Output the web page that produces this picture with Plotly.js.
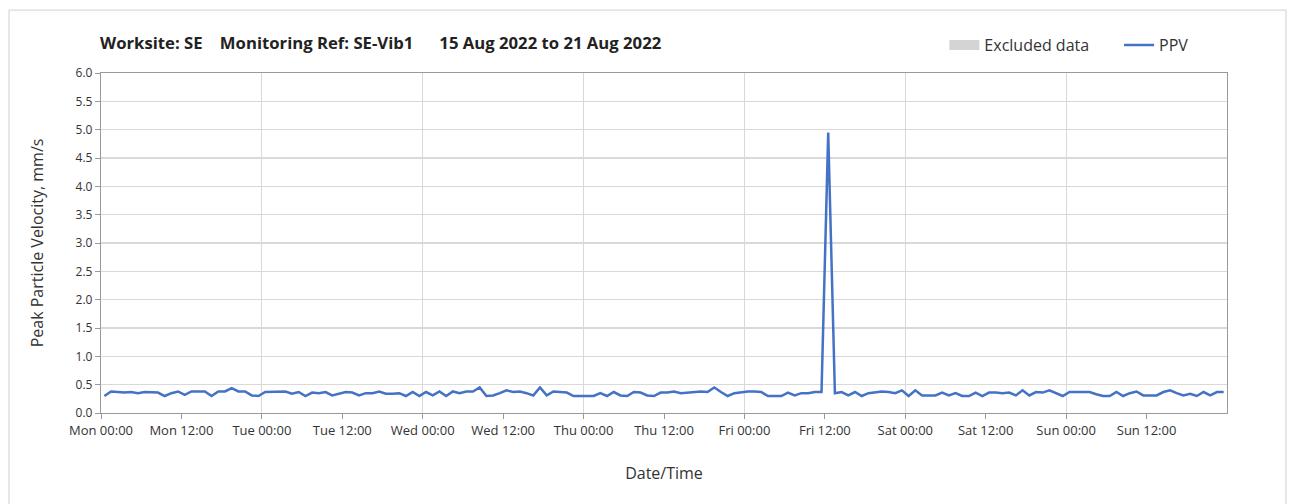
<!DOCTYPE html>
<html>
<head>
<meta charset="utf-8">
<script src="https://cdn.plot.ly/plotly-3.0.1.min.js"></script>
<style>html,body{margin:0;padding:0;background:#fff;}#chart{width:1295px;height:504px;}</style>
</head>
<body>
<div id="chart"></div>
<script>
// Hourly PPV readings (mm/s), one per hour at hh:30, Mon 15 Aug 2022 to Sun 21 Aug 2022
const startTime = '2022-08-15T00:30:00';
const ppvMon = [0.30,0.38,0.37,0.36,0.37,0.35,0.37,0.36,0.36,0.30,0.35,0.38,0.32,0.38,0.38,0.38,0.30,0.38,0.38,0.44,0.38,0.38,0.31,0.30];
const ppvTue = [0.37,0.37,0.37,0.38,0.34,0.37,0.30,0.36,0.35,0.37,0.31,0.34,0.37,0.36,0.31,0.35,0.35,0.38,0.34,0.34,0.35,0.30,0.37,0.30];
const ppvWed = [0.37,0.31,0.38,0.30,0.38,0.35,0.38,0.38,0.45,0.30,0.31,0.35,0.40,0.37,0.38,0.35,0.31,0.45,0.31,0.38,0.37,0.36,0.30,0.30];
const ppvThu = [0.30,0.30,0.35,0.30,0.37,0.31,0.30,0.37,0.36,0.31,0.30,0.36,0.36,0.38,0.35,0.36,0.37,0.38,0.37,0.45,0.37,0.30,0.35,0.37];
const ppvFri = [0.38,0.38,0.37,0.30,0.30,0.30,0.36,0.31,0.35,0.35,0.37,0.37,4.95,0.35,0.37,0.31,0.37,0.30,0.35,0.37,0.38,0.37,0.35,0.40];
const ppvSat = [0.30,0.40,0.31,0.31,0.31,0.36,0.31,0.35,0.30,0.30,0.36,0.30,0.36,0.36,0.35,0.36,0.31,0.40,0.31,0.37,0.36,0.40,0.35,0.30];
const ppvSun = [0.37,0.37,0.37,0.37,0.33,0.30,0.30,0.37,0.30,0.35,0.38,0.31,0.31,0.31,0.37,0.40,0.35,0.31,0.34,0.30,0.37,0.31,0.37,0.37];
const tickLabels = ['Mon 00:00','Mon 12:00','Tue 00:00','Tue 12:00','Wed 00:00','Wed 12:00','Thu 00:00','Thu 12:00','Fri 00:00','Fri 12:00','Sat 00:00','Sat 12:00','Sun 00:00','Sun 12:00'];
const rangeStart = '2022-08-15T00:00:00';
const rangeEnd = '2022-08-22T00:00:00';
const chartTitle = 'Worksite: SE\u00a0\u00a0\u00a0\u00a0Monitoring Ref: SE-Vib1\u00a0\u00a0\u00a0\u00a0\u00a0\u00a015 Aug 2022 to 21 Aug 2022';

const pad = n => String(n).padStart(2, '0');
const fmt = ms => { const d = new Date(ms); return d.getUTCFullYear() + '-' + pad(d.getUTCMonth() + 1) + '-' + pad(d.getUTCDate()) + ' ' + pad(d.getUTCHours()) + ':' + pad(d.getUTCMinutes()); };
const ppv = [].concat(ppvMon, ppvTue, ppvWed, ppvThu, ppvFri, ppvSat, ppvSun);
const t0 = new Date(startTime + 'Z').getTime();
const r0 = new Date(rangeStart + 'Z').getTime();
const r1 = new Date(rangeEnd + 'Z').getTime();
const times = ppv.map((_, i) => fmt(t0 + i * 3600000));
const tickVals = tickLabels.map((_, i) => fmt(r0 + i * 43200000));

const FONT = 'Open Sans, Noto Sans, sans-serif';
const traces = [
  {type: 'scatter', mode: 'lines', x: [null], y: [null], name: 'Excluded data\u00a0\u00a0\u00a0\u00a0\u00a0\u00a0', line: {color: '#d4d4d4', width: 12}, showlegend: true, hoverinfo: 'skip'},
  {type: 'scatter', mode: 'lines', x: times, y: ppv, name: 'PPV', line: {color: '#4472C4', width: 2.5}},
  {type: 'scatter', mode: 'lines', x: [fmt(r0), fmt(r1)], y: [null, null], xaxis: 'x2', showlegend: false, hoverinfo: 'skip'}
];

const layout = {
  width: 1295, height: 504,
  margin: {l: 101, r: 68, t: 73, b: 91},
  paper_bgcolor: '#fff', plot_bgcolor: '#fff',
  font: {family: FONT, color: '#333', size: 12},
  title: {text: '<b>' + chartTitle + '</b>', x: 100/1295, xanchor: 'left', y: 1 - 43/504, yanchor: 'middle', font: {size: 16.7, color: '#222', family: FONT}},
  showlegend: true,
  legend: {orientation: 'h', x: 0.749, xanchor: 'left', y: 1.082, yanchor: 'middle', font: {size: 16, color: '#333'}, itemwidth: 30, tracegroupgap: 0, bgcolor: 'rgba(0,0,0,0)'},
  xaxis: {
    type: 'date', range: [fmt(r0), fmt(r1)],
    tickmode: 'array', tickvals: tickVals, ticktext: tickLabels,
    showgrid: false, zeroline: false,
    ticks: 'outside', ticklen: 5, tickcolor: '#999', tickfont: {size: 13, color: '#333'},
    showline: true, linecolor: '#999', linewidth: 1.2, mirror: true,
    title: {text: 'Date/Time', font: {size: 16, color: '#333'}, standoff: 30}
  },
  xaxis2: {
    type: 'date', range: [fmt(r0), fmt(r1)], overlaying: 'x',
    tick0: fmt(r0), dtick: 86400000,
    showgrid: true, gridcolor: '#d9d9d9', gridwidth: 1.2,
    showticklabels: false, ticks: '', showline: false, zeroline: false
  },
  yaxis: {
    range: [0, 6], dtick: 0.5, tickformat: '.1f',
    showgrid: true, gridcolor: '#d9d9d9', gridwidth: 1.2, zeroline: false,
    ticks: 'outside', ticklen: 5, tickcolor: '#999', tickfont: {size: 12, color: '#333'},
    showline: true, linecolor: '#999', linewidth: 1.2, mirror: true,
    title: {text: 'Peak Particle Velocity, mm/s', font: {size: 16, color: '#333'}, standoff: 28}
  },
  shapes: [
    {type: 'rect', xref: 'paper', yref: 'paper', x0: -0.0817, x1: 1.0524, y0: -0.3, y1: 1.185, line: {color: '#d0d0d0', width: 1}, fillcolor: 'rgba(0,0,0,0)', layer: 'below'}
  ]
};

Plotly.newPlot('chart', traces, layout, {displayModeBar: false, staticPlot: true});
</script>
</body>
</html>
